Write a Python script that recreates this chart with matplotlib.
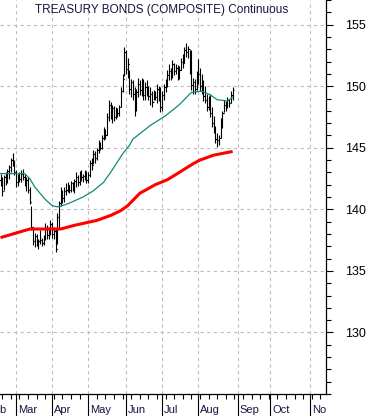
"""Treasury bonds (composite) daily bars with 50- and 200-day averages."""
import matplotlib

matplotlib.use("Agg")
import matplotlib.pyplot as plt
from matplotlib.transforms import Bbox, TransformedBbox

plt.rcParams["font.family"] = ["Liberation Sans", "DejaVu Sans"]

# daily bars, trading-day index 0..135 (late Feb .. end Aug)
highs = [142.9, 142.6, 142.8, 143.0, 143.3, 143.6, 144.2, 144.6, 144.0, 143.2,
         142.9, 143.0, 143.2, 143.3, 142.9, 142.6, 142.6, 141.8, 140.3, 138.4,
         138.1, 138.0, 137.6, 138.3, 137.7, 137.9, 138.9, 138.7, 138.6, 139.1,
         139.0, 138.6, 138.5, 139.7, 140.7, 141.8, 141.6, 141.8, 142.1, 142.2,
         142.0, 142.3, 142.2, 142.5, 143.0, 142.8, 143.1, 143.2, 142.9, 143.2,
         143.1, 143.0, 144.0, 144.2, 144.8, 144.7, 145.0, 145.6, 145.5, 146.0,
         146.7, 146.5, 147.8, 148.9, 148.7, 148.5, 148.4, 148.3, 148.2, 148.5,
         149.9, 151.0, 153.2, 152.9, 152.3, 151.3, 150.6, 150.5, 149.9, 149.8,
         150.7, 150.5, 150.7, 150.6, 150.3, 150.5, 150.0, 149.9, 149.6, 149.7,
         149.6, 150.2, 150.0, 149.9, 149.6, 150.2, 150.6, 151.3, 151.8, 151.5,
         152.1, 151.9, 151.8, 151.7, 151.6, 152.3, 152.6, 153.2, 153.5, 153.3,
         152.9, 152.9, 150.7, 150.6, 151.2, 152.2, 151.5, 151.0, 150.5, 150.0,
         149.4, 149.2, 149.4, 148.3, 147.6, 146.8, 146.2, 146.0, 147.4, 148.0,
         148.9, 148.8, 149.1, 149.0, 149.6, 149.9]
lows = [141.9, 141.1, 141.6, 142.0, 142.1, 142.5, 143.0, 143.5, 142.8, 141.8,
        141.9, 142.2, 142.2, 142.4, 141.9, 141.5, 141.3, 140.4, 138.3, 137.1,
        136.9, 137.0, 136.8, 137.2, 137.0, 137.1, 137.5, 137.6, 137.6, 137.9,
        137.7, 137.6, 136.5, 137.2, 138.5, 140.3, 140.5, 140.6, 141.2, 141.4,
        141.3, 141.4, 141.5, 141.3, 141.8, 141.9, 142.0, 142.3, 142.2, 142.4,
        142.1, 142.1, 142.6, 143.2, 143.7, 143.8, 144.0, 144.6, 144.8, 144.9,
        145.6, 145.7, 146.0, 147.2, 147.3, 147.0, 147.2, 147.3, 147.5, 147.6,
        148.3, 149.5, 150.8, 151.0, 150.7, 149.4, 149.1, 148.9, 147.6, 148.0,
        149.1, 149.3, 149.2, 148.9, 148.9, 149.2, 148.9, 148.5, 148.3, 148.9,
        148.9, 148.6, 148.8, 147.9, 148.0, 148.9, 149.5, 149.9, 150.5, 150.5,
        150.7, 150.9, 151.0, 150.5, 150.6, 151.3, 151.5, 151.9, 152.4, 152.3,
        151.0, 149.7, 149.4, 149.4, 149.7, 150.2, 149.6, 149.4, 148.8, 148.6,
        148.0, 148.1, 147.5, 146.7, 146.2, 145.4, 145.1, 145.2, 145.8, 146.6,
        147.9, 148.0, 148.2, 148.3, 148.6, 148.9]
closes = [142.4, 141.5, 142.6, 142.3, 143.1, 143.4, 144.0, 143.8, 143.0, 142.2,
          142.7, 142.5, 142.9, 142.6, 142.1, 142.4, 141.6, 140.6, 138.6, 137.4,
          137.8, 137.2, 137.4, 137.5, 137.3, 137.7, 138.5, 137.9, 138.3, 138.8,
          138.0, 138.2, 136.8, 139.4, 140.5, 141.4, 140.9, 141.5, 141.6, 142.0,
          141.6, 142.1, 141.8, 142.3, 142.6, 142.2, 142.8, 142.6, 142.7, 143.0,
          142.4, 142.8, 143.8, 143.6, 144.5, 144.2, 144.8, 145.2, 145.0, 145.8,
          146.4, 146.0, 147.5, 148.5, 147.6, 148.2, 147.5, 148.0, 147.8, 148.3,
          149.6, 150.6, 152.8, 151.4, 151.8, 149.8, 150.3, 149.4, 148.1, 149.5,
          150.2, 149.7, 150.4, 149.3, 149.9, 149.5, 149.2, 149.4, 148.7, 149.3,
          149.1, 149.8, 149.2, 148.3, 149.3, 149.9, 150.4, 150.9, 151.2, 150.8,
          151.8, 151.2, 151.5, 150.9, 151.3, 152.0, 151.9, 152.9, 152.8, 153.0,
          151.3, 150.1, 150.3, 149.8, 150.9, 151.0, 150.0, 149.7, 149.2, 148.9,
          148.3, 148.8, 147.8, 147.0, 146.5, 145.7, 145.6, 145.8, 147.1, 147.8,
          148.5, 148.3, 148.9, 148.6, 149.3, 149.7]

# moving averages at a few knots (day index, price)
ma50_day = [0, 5, 14, 17, 20, 23, 26, 30, 33, 36, 40, 48, 54, 60, 65, 71, 75,
            77, 87, 96, 104, 111, 117, 122, 126, 132, 135]
ma50_val = [142.9, 142.9, 142.9, 142.5, 141.8, 141.3, 140.8, 140.3, 140.2, 140.3,
            140.5, 141.0, 141.5, 142.2, 143.2, 144.5, 145.2, 145.7, 146.8, 147.6,
            148.5, 149.5, 149.6, 149.3, 148.9, 148.8, 149.1]
ma200_day = [0, 17, 35, 43, 56, 64, 70, 74, 81, 90, 97, 104, 112, 116, 124, 135]
ma200_val = [137.7, 138.4, 138.4, 138.7, 139.1, 139.5, 139.9, 140.3, 141.3, 142.0,
             142.4, 143.0, 143.7, 144.0, 144.4, 144.7]

# first trading day of each month on the same index
month_start = [-9, 9, 30, 51, 73, 94, 115, 138, 157, 180]
month_names = ["Feb", "Mar", "Apr", "May", "Jun", "Jul", "Aug", "Sep", "Oct", "Nov"]
price_ticks = [130, 135, 140, 145, 150, 155]

fig = plt.figure(figsize=(3.72, 4.16), dpi=100)
ax = fig.add_axes([0, 22 / 416, 326 / 372, 394 / 416])

days = list(range(len(closes)))
opens = [closes[0]] + closes[:-1]
ax.vlines(days, lows, highs, color="black", lw=0.8, zorder=3)
ax.hlines(closes, [d for d in days], [d + 0.7 for d in days], color="black", lw=0.8, zorder=3)
ax.hlines(opens, [d - 0.7 for d in days], [d for d in days], color="black", lw=0.8, zorder=3)

ax.plot(ma50_day, ma50_val, color="#11897a", lw=0.9, zorder=4)
ax.plot(ma200_day, ma200_val, color="#ff0000", lw=2.2, zorder=4, solid_capstyle="butt")

# axes cosmetics: only right and bottom frame lines
for side in ("left", "top"):
    ax.spines[side].set_visible(False)
for side in ("right", "bottom"):
    ax.spines[side].set_linewidth(0.9)
ax.yaxis.tick_right()
ax.set_yticks(price_ticks)
ax.set_yticks(range(125, 158), minor=True)
ax.tick_params(axis="y", which="major", length=5, width=0.8, pad=8.5, labelsize=9)
ax.tick_params(axis="y", which="minor", length=3.3, width=0.8)
ax.tick_params(axis="y", which="both", left=False)

ax.set_xticks(month_start)
ax.set_xticks(range(-4, 189, 5), minor=True)
ax.set_xticklabels([])
ax.tick_params(axis="x", which="major", length=16, width=0.8)
ax.tick_params(axis="x", which="minor", length=3.6, width=0.8)

# limits after the ticks, otherwise set_xticks widens the view to the Feb tick
ax.set_xlim(-0.3, 189.3)
ax.set_ylim(125, 157)

ax.grid(True, which="major", color="#bdbdbd", lw=0.8, ls=(0, (3, 3)))
ax.set_axisbelow(True)

clip = TransformedBbox(Bbox([[0, 0], [326 / 372, 1]]), fig.transFigure)
for d, name in zip(month_start, month_names):
    t = ax.text(d + 1.2, -0.04, name, transform=ax.get_xaxis_transform(),
                ha="left", va="center", fontsize=8, color="#15153f")
    t.set_clip_box(clip)
    t.set_clip_on(True)

ax.text(0.107, 0.975, "TREASURY BONDS (COMPOSITE) Continuous", transform=ax.transAxes,
        ha="left", va="center", fontsize=8.5, color="#15153f")

fig.savefig("out.png", dpi=100)
